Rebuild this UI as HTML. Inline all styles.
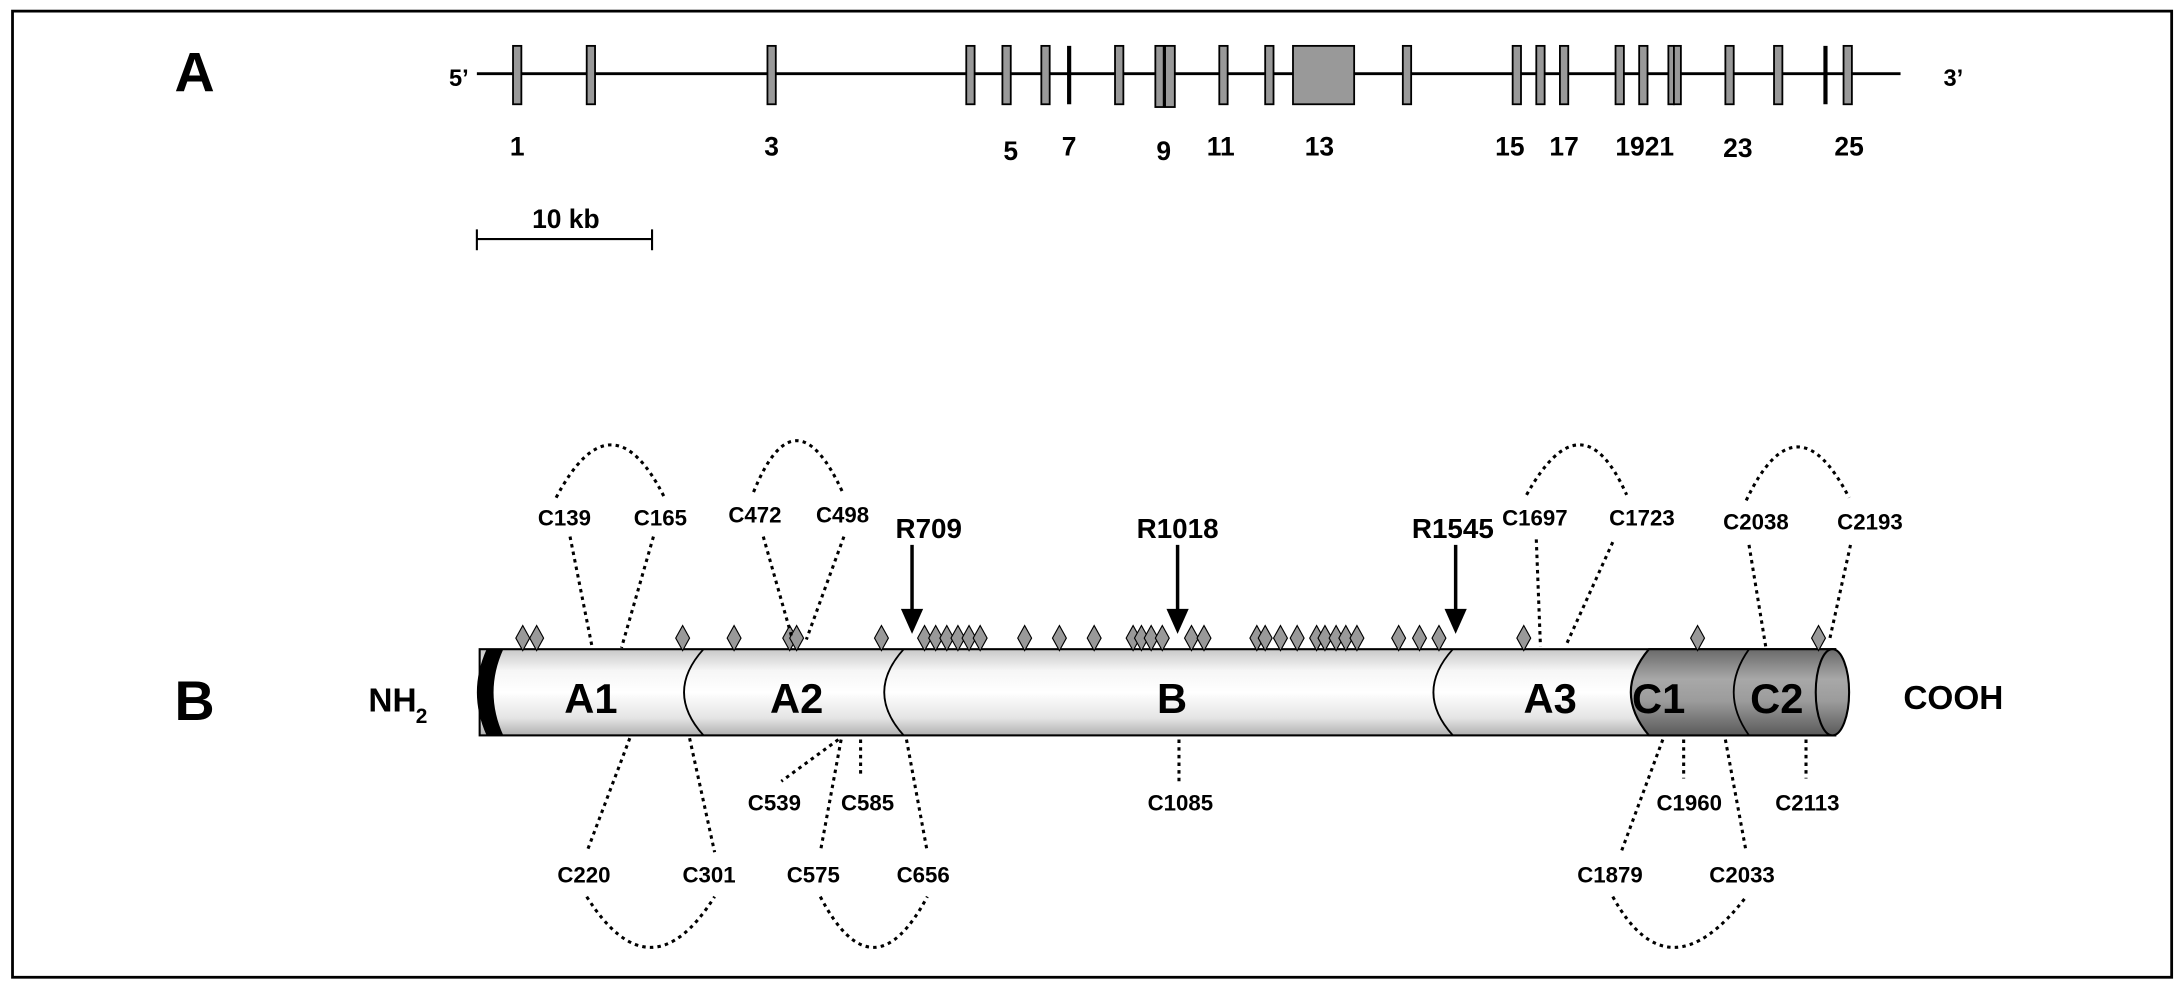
<!DOCTYPE html>
<html><head><meta charset="utf-8"><style>html,body{margin:0;padding:0;background:#fff}svg{display:block}</style></head>
<body>
<svg width="2180" height="987" viewBox="0 0 1568 710" preserveAspectRatio="none" xmlns="http://www.w3.org/2000/svg" font-family="Liberation Sans, Arial, sans-serif" font-weight="bold">
<defs>
<linearGradient id="lg" x1="0" y1="0" x2="0" y2="1">
<stop offset="0" stop-color="#c8c8c8"/><stop offset="0.25" stop-color="#f6f6f6"/><stop offset="0.5" stop-color="#ffffff"/><stop offset="0.8" stop-color="#e4e4e4"/><stop offset="1" stop-color="#b0b0b0"/></linearGradient>
<linearGradient id="dg" x1="0" y1="0" x2="0" y2="1">
<stop offset="0" stop-color="#6a6a6a"/><stop offset="0.35" stop-color="#a8a8a8"/><stop offset="0.6" stop-color="#9c9c9c"/><stop offset="1" stop-color="#5a5a5a"/></linearGradient>
</defs>
<rect x="9" y="8" width="1553" height="695" fill="none" stroke="#000" stroke-width="2"/>
<!-- Panel A -->
<text x="140" y="66" font-size="40" text-anchor="middle">A</text>
<text x="330" y="62" font-size="17" text-anchor="middle">5’</text>
<text x="1405" y="62" font-size="17" text-anchor="middle">3’</text>
<line x1="343" y1="53" x2="1367" y2="53" stroke="#000" stroke-width="2"/>
<g fill="#999" stroke="#000" stroke-width="1.3">
<rect x="369" y="33" width="6" height="42"/><rect x="422" y="33" width="6" height="42"/><rect x="552" y="33" width="6" height="42"/>
<rect x="695" y="33" width="6" height="42"/><rect x="721" y="33" width="6" height="42"/><rect x="749" y="33" width="6" height="42"/>
<rect x="802" y="33" width="6" height="42"/><rect x="831" y="33" width="6" height="44"/><rect x="838" y="33" width="7" height="44"/>
<rect x="877" y="33" width="6" height="42"/><rect x="910" y="33" width="6" height="42"/><rect x="930" y="33" width="44" height="42"/>
<rect x="1009" y="33" width="6" height="42"/><rect x="1088" y="33" width="6" height="42"/><rect x="1105" y="33" width="6" height="42"/>
<rect x="1122" y="33" width="6" height="42"/><rect x="1162" y="33" width="6" height="42"/><rect x="1179" y="33" width="6" height="42"/>
<rect x="1200" y="33" width="4" height="42"/><rect x="1204" y="33" width="5" height="42"/><rect x="1241" y="33" width="6" height="42"/>
<rect x="1276" y="33" width="6" height="42"/><rect x="1326" y="33" width="6" height="42"/>
</g>
<line x1="769" y1="33" x2="769" y2="75" stroke="#000" stroke-width="3"/>
<line x1="1313" y1="33" x2="1313" y2="75" stroke="#000" stroke-width="3"/>
<g font-size="19" text-anchor="middle">
<text x="372" y="112">1</text><text x="555" y="112">3</text><text x="727" y="115">5</text><text x="769" y="112">7</text>
<text x="837" y="115">9</text><text x="878" y="112">11</text><text x="949" y="112">13</text><text x="1086" y="112">15</text>
<text x="1125" y="112">17</text><text x="1183" y="112">1921</text><text x="1250" y="113">23</text><text x="1330" y="112">25</text>
<text x="407" y="164">10 kb</text>
</g>
<line x1="343" y1="172" x2="469" y2="172" stroke="#000" stroke-width="1.5"/>
<line x1="343" y1="165" x2="343" y2="180" stroke="#000" stroke-width="1.5"/>
<line x1="469" y1="165" x2="469" y2="180" stroke="#000" stroke-width="1.5"/>
<!-- Panel B -->
<text x="140" y="518" font-size="40" text-anchor="middle">B</text>
<text x="265" y="512" font-size="24">NH</text><text x="299" y="520" font-size="15">2</text>
<text x="1405" y="510" font-size="24" text-anchor="middle">COOH</text>
<rect x="345" y="467" width="975" height="62" fill="url(#lg)" stroke="#000" stroke-width="1.5"/>
<path d="M1186,467 L1320,467 L1320,529 L1186,529 Q1160,498 1186,467 Z" fill="url(#dg)" stroke="#000" stroke-width="1.5"/>
<ellipse cx="1318" cy="498" rx="12" ry="31" fill="url(#dg)" stroke="#000" stroke-width="1.5"/>
<path d="M350,467 L362,467 Q348,498 362,529 L350,529 Q336,498 350,467 Z" fill="#000"/>
<g fill="none" stroke="#000" stroke-width="1.3">
<path d="M506,467 Q478,498 506,529"/><path d="M650,467 Q622,498 650,529"/>
<path d="M1045,467 Q1017,498 1045,529"/><path d="M1258,467 Q1236,498 1258,529"/>
</g>
<g font-size="30" text-anchor="middle">
<text x="425" y="513">A1</text><text x="573" y="513">A2</text><text x="843" y="513">B</text>
<text x="1115" y="513">A3</text><text x="1193" y="513">C1</text><text x="1278" y="513">C2</text>
</g>
<!-- diamonds -->
<g fill="#999" stroke="#000" stroke-width="0.8">
<path id="d" d="M0,-9 L5,0 L0,9 L-5,0 Z" transform="translate(376,459)"/>
<use href="#d" x="10"/><use href="#d" x="115"/><use href="#d" x="152"/><use href="#d" x="192"/><use href="#d" x="197"/>
<use href="#d" x="258"/><use href="#d" x="289"/><use href="#d" x="297"/><use href="#d" x="305"/><use href="#d" x="313"/>
<use href="#d" x="321"/><use href="#d" x="329"/><use href="#d" x="361"/><use href="#d" x="386"/><use href="#d" x="411"/>
<use href="#d" x="439"/><use href="#d" x="445"/><use href="#d" x="452"/><use href="#d" x="460"/><use href="#d" x="481"/>
<use href="#d" x="490"/><use href="#d" x="528"/><use href="#d" x="534"/><use href="#d" x="545"/><use href="#d" x="557"/>
<use href="#d" x="571"/><use href="#d" x="577"/><use href="#d" x="585"/><use href="#d" x="592"/><use href="#d" x="600"/>
<use href="#d" x="630"/><use href="#d" x="645"/><use href="#d" x="659"/><use href="#d" x="720"/><use href="#d" x="845"/>
<use href="#d" x="932"/>
</g>
<!-- arrows -->
<g stroke="#000" stroke-width="2.5"><line x1="656" y1="392" x2="656" y2="440"/><line x1="847" y1="392" x2="847" y2="440"/><line x1="1047" y1="392" x2="1047" y2="440"/></g>
<g fill="#000"><path d="M648,438 L664,438 L656,456 Z"/><path d="M839,438 L855,438 L847,456 Z"/><path d="M1039,438 L1055,438 L1047,456 Z"/></g>
<g font-size="20" text-anchor="middle"><text x="668" y="387">R709</text><text x="847" y="387">R1018</text><text x="1045" y="387">R1545</text></g>
<!-- cysteine labels -->
<g font-size="16" text-anchor="middle">
<text x="406" y="378">C139</text><text x="475" y="378">C165</text><text x="543" y="376">C472</text><text x="606" y="376">C498</text>
<text x="1104" y="378">C1697</text><text x="1181" y="378">C1723</text><text x="1263" y="381">C2038</text><text x="1345" y="381">C2193</text>
<text x="557" y="583">C539</text><text x="624" y="583">C585</text><text x="849" y="583">C1085</text>
<text x="1215" y="583">C1960</text><text x="1300" y="583">C2113</text>
<text x="420" y="635">C220</text><text x="510" y="635">C301</text><text x="585" y="635">C575</text><text x="664" y="635">C656</text>
<text x="1158" y="635">C1879</text><text x="1253" y="635">C2033</text>
</g>
<!-- dotted connectors -->
<g fill="none" stroke="#000" stroke-width="2.2" stroke-dasharray="2.5,3">
<path d="M400,358 Q440,282 478,358"/><path d="M410,386 L426,466"/><path d="M470,386 L447,466"/>
<path d="M542,354 Q572,280 606,354"/><path d="M549,386 L570,460"/><path d="M607,386 L580,460"/>
<path d="M1098,356 Q1138,284 1170,356"/><path d="M1105,388 L1108,465"/><path d="M1160,390 L1126,465"/>
<path d="M1256,360 Q1292,284 1330,358"/><path d="M1258,392 L1270,465"/><path d="M1331,392 L1316,460"/>
<path d="M453,531 L422,613"/><path d="M496,531 L514,613"/><path d="M422,645 Q468,718 514,645"/>
<path d="M603,532 L562,562"/><path d="M619,532 L619,558"/><path d="M605,532 L590,613"/><path d="M652,532 L667,613"/>
<path d="M590,645 Q628,718 667,645"/>
<path d="M848,532 L848,562"/><path d="M1211,532 L1211,560"/><path d="M1299,532 L1299,560"/>
<path d="M1196,532 L1166,613"/><path d="M1241,532 L1256,613"/><path d="M1160,645 Q1200,718 1256,645"/>
</g>
</svg>
</body></html>
